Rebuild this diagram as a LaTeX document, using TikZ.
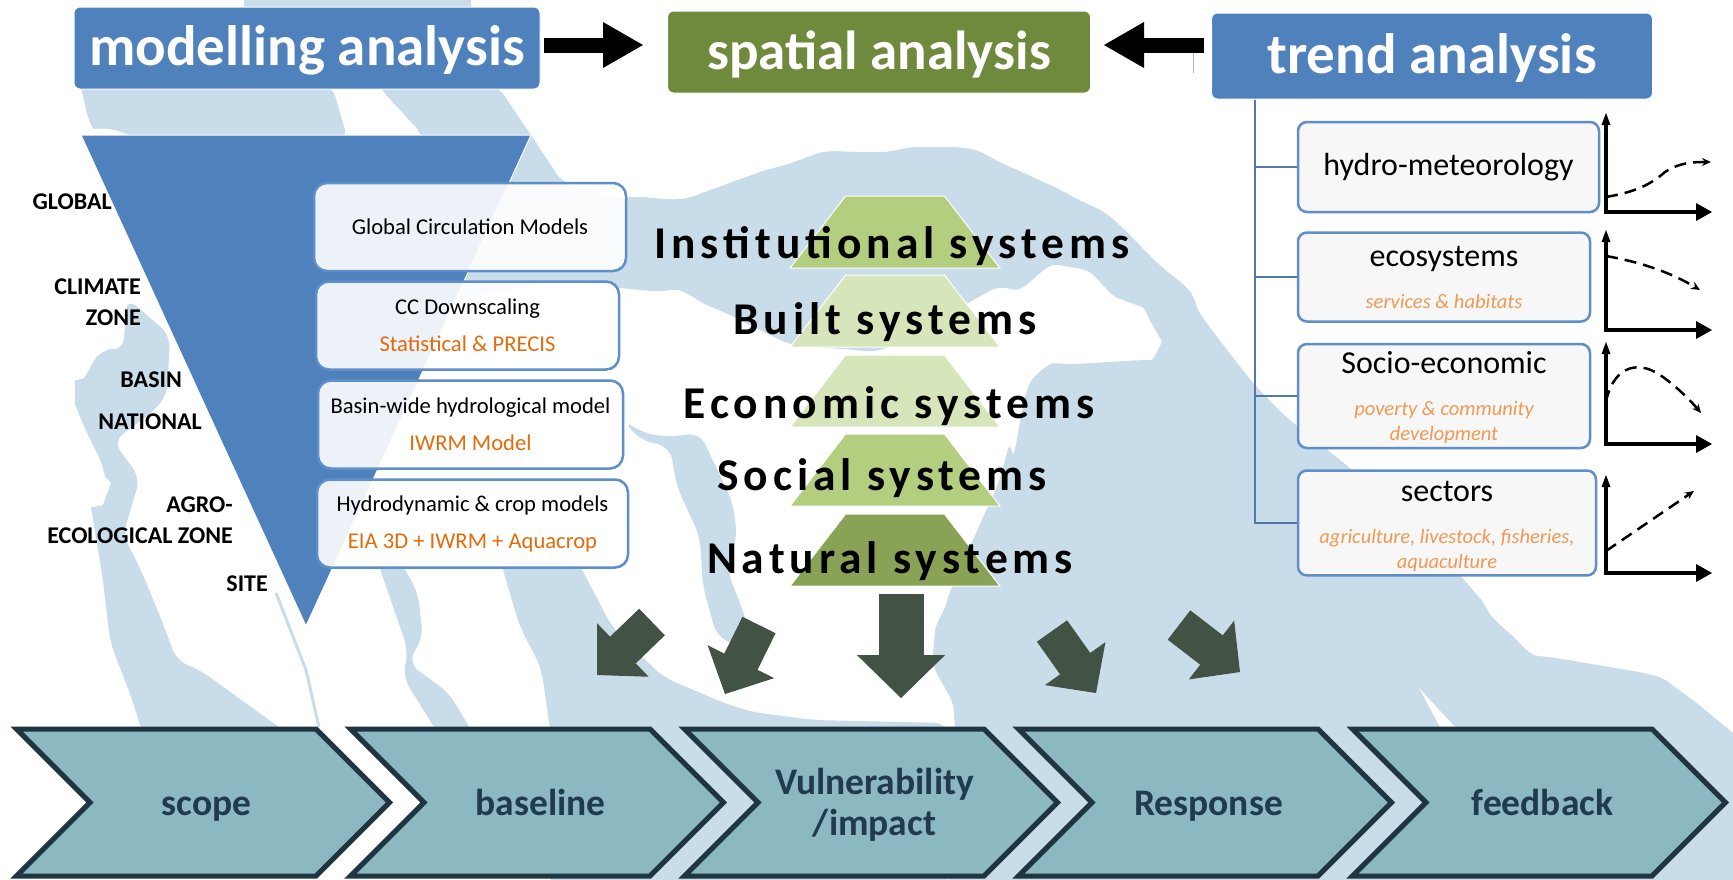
\documentclass[tikz,border=0pt]{standalone}
\usepackage{xcolor}
\usepackage{fontspec}
\setmainfont{Carlito}
\newfontfamily\spacedfont[LetterSpace=11]{Carlito}
\usetikzlibrary{shapes.geometric, shapes.symbols, arrows.meta, positioning}
\definecolor{riverblue}{HTML}{C9DCE9}
\definecolor{headblue}{HTML}{4F81BD}
\definecolor{headgreen}{HTML}{6F8A3D}
\definecolor{edgeblue}{HTML}{5F8FC8}
\definecolor{noteorange}{HTML}{E36C0A}
\definecolor{softorange}{HTML}{EE9A55}
\definecolor{layerlight}{HTML}{D7E6BA}
\definecolor{layermid}{HTML}{B3CE7E}
\definecolor{layerdark}{HTML}{8AA256}
\definecolor{arrowgreen}{HTML}{425244}
\definecolor{stepfill}{HTML}{8BB8C1}
\definecolor{stepedge}{HTML}{1F3541}
\definecolor{steptext}{HTML}{213A4E}
\newcommand{\modelnote}[1]{\textcolor{noteorange}{#1}}
\newcommand{\trendnote}[1]{{\fontsize{20.5}{24}\selectfont\itshape\textcolor{softorange}{#1}}}
\newcommand{\stepname}[1]{\hspace*{7pt}\rule[-10pt]{0pt}{46pt}#1}

\begin{document}
\begin{tikzpicture}[
    x=1pt, y=-1pt,
    head/.style={rectangle, draw=white, line width=1pt, fill=headblue, text=white, rounded corners=6pt, text height=48pt, text depth=13pt, font=\bfseries\fontsize{57}{64}\selectfont},
    modelbox/.style={rectangle, draw=edgeblue, line width=2.5pt, fill=white, fill opacity=0.9, text opacity=1, rounded corners=13pt, align=center, minimum width=305pt, minimum height=88pt, text=black, font=\fontsize{22.6}{37}\selectfont},
    trendbox/.style={rectangle, draw=edgeblue, line width=2.5pt, fill=white!97!black, rounded corners=9pt, align=center, text=black, font=\fontsize{32}{36}\selectfont},
    level/.style={anchor=east, inner sep=0pt, font=\bfseries\fontsize{24}{28}\selectfont},
    layer/.style={trapezium, draw=white, line width=1pt, trapezium stretches=true, trapezium left angle=60.7, trapezium right angle=60.7, minimum width=210pt, minimum height=72pt},
    layertext/.style={inner sep=0pt, font=\spacedfont\bfseries\fontsize{45.5}{52}\selectfont},
    stepbox/.style={signal, signal from=west, signal to=east, signal pointer angle=90, draw=stepedge, line width=5pt, fill=stepfill, minimum width=373pt, minimum height=147pt, inner sep=0pt, align=center, text=steptext, font=\bfseries\fontsize{37.5}{41}\selectfont},
    blackarrow/.style={-{Triangle[length=40pt,width=46pt,line width=0pt]}, line width=15pt, black},
    greenarrow/.style={-{Triangle[length=36pt,width=74pt,line width=1pt]}, line width=37pt, arrowgreen},
    mainarrow/.style={-{Triangle[length=43pt,width=88pt,line width=1pt]}, line width=45pt, arrowgreen},
    branch/.style={draw=edgeblue!85!black, line width=2pt},
    axis/.style={-{Triangle[length=16pt,width=18pt,line width=0pt]}, line width=3.5pt, black},
    yaxis/.style={-{Triangle[length=12pt,width=9pt,line width=0pt]}, line width=3.5pt, black},
    curve/.style={-{Stealth[length=9pt,width=8pt]}, dashed, dash pattern=on 12pt off 7pt, line width=2.5pt, black},
    river/.style={riverblue, rounded corners=12pt}
]
\useasboundingbox (0,0) rectangle (1733,879);

% River background
\fill[white] (0,0) rectangle (1733,879);
\fill[riverblue] (244,0) rectangle (471,10);
\fill[river] (75,85) to[out=80,in=190] (107,127) -- (143,140) -- (348,140) -- (332,85) -- cycle;
\fill[river] (377,85) -- (497,85) -- (531,135) -- (564,185) to[out=0,in=180] (625,197) to[out=0,in=200] (705,192) to[out=20,in=200] (746,177) to[out=20,in=200] (805,158) to[out=20,in=180] (870,152) to[out=0,in=180] (929,147) to[out=0,in=150] (995,160) -- (1061,190) to[out=-30,in=140] (1120,225) -- (1161,267) -- (1180,281) to[out=-45,in=125] (1208,325) -- (1244,372) to[out=-50,in=135] (1286,417) -- (1349,467) -- (1420,530) -- (1473,590) to[out=-50,in=135] (1502,627) to[out=-40,in=175] (1550,657) -- (1645,673) to[out=-15,in=145] (1693,700) -- (1750,747) -- (1750,900) -- (947,900) -- (955,723) to[out=95,in=-95] (934,643) to[out=85,in=-105] (949,593) -- (1000,480) -- (1010,440) to[out=-80,in=-130] (1040,370) to[out=30,in=180] (1078,364) -- (1140,360) to[out=0,in=-60] (1156,331) to[out=120,in=-20] (1131,303) to[out=160,in=-10] (1070,267) to[out=170,in=-20] (1000,285) -- (880,352) -- (790,345) -- (720,310) to[out=160,in=10] (660,292) -- (620,288) -- (560,280) -- (450,300) -- (423,135) -- cycle;
% lower channels
\fill[river] (127,298) -- (123,351) to[out=170,in=60] (90,368) to[out=-120,in=90] (75,392) to[out=-90,in=110] (83,425) -- (103,465) to[out=-80,in=70] (107,494) to[out=-110,in=100] (93,519) -- (103,580) -- (110,641) to[out=-70,in=110] (133,702) -- (143,735) -- (290,735) -- (233,694) -- (200,670) -- (177,661) -- (160,616) -- (140,568) -- (123,535) -- (140,478) -- (113,441) -- (150,414) -- (167,396) -- (170,335) -- cycle;
\fill[river] (377,560) -- (408,650) -- (403,677) -- (439,735) -- (474,735) -- (449,693) -- (408,663) -- (423,637) -- (418,593) -- (400,560) -- cycle;
\fill[river] (500,560) -- (520,627) -- (541,667) -- (551,735) -- (551,900) -- (947,900) -- (947,723) -- (813,720) -- (752,712) -- (724,703) -- (663,677) -- (612,627) -- (577,560) -- cycle;
\fill[river] (623,420) -- (643,433) -- (667,437) -- (700,433) -- (733,503) -- (737,537) -- (727,570) -- (740,603) -- (757,653) -- (717,637) -- (703,587) -- (700,537) -- (677,487) -- (670,447) -- (640,440) -- cycle;
\draw[riverblue, line width=3pt] (276,593) -- (306,670) -- (319,727);
\fill[white] (1419,688) -- (1455,727) -- (1440,727) -- cycle;
\draw[gray!60, line width=1pt] (1193,52) -- (1193,73);

% Headers
\node[head, minimum width=466pt, minimum height=82pt] (modelling) at (307,48) {modelling analysis};
\node[head, fill=headgreen, minimum width=423pt, minimum height=82pt, font=\bfseries\fontsize{55}{62}\selectfont] (spatial) at (879,52) {spatial analysis};
\node[head, minimum width=441pt, minimum height=86pt] (trend) at (1432,56) {trend analysis};

% Scale labels
\node[level] (global) at (112,202) {GLOBAL};
\node[level] (climate) at (141,287) {CLIMATE};
\node[level] (climatezone) at (141,318) {ZONE};
\node[level] (basin) at (182,380) {BASIN};
\node[level] (national) at (202,422) {NATIONAL};
\node[level] (agro) at (233,505) {AGRO-};
\node[level] (ecozone) at (233,536) {ECOLOGICAL ZONE};
\node[level] (site) at (268,584) {SITE};

% Scale funnel
\fill[headblue, draw=white, line width=1pt] (81,135) -- (531,135) -- (306,626) -- cycle;

% Model boxes
\node[modelbox, minimum width=312pt] (gcm) at (470,227) {Global Circulation Models};
\node[modelbox, below=8pt of gcm.south west, anchor=north west, xshift=2pt, minimum width=303pt] (downscale) {CC Downscaling\\\modelnote{Statistical \& PRECIS}};
\node[modelbox, below=8.5pt of downscale.south west, anchor=north west, xshift=2pt] (hydromodel) {Basin-wide hydrological model\\\modelnote{IWRM Model}};
\node[modelbox, below=8.5pt of hydromodel.south west, anchor=north west, xshift=-1pt, minimum width=311pt] (cropmodel) {Hydrodynamic \& crop models\\\modelnote{EIA 3D + IWRM + Aquacrop}};

% Top arrows
\coordinate (arrowline) at (0,45);
\draw[blackarrow] ([xshift=3pt]modelling.east |- arrowline) -- ([xshift=-24pt]spatial.west |- arrowline);
\draw[blackarrow] ([xshift=-7pt]trend.west |- arrowline) -- ([xshift=13pt]spatial.east |- arrowline);

% Trend boxes
\node[trendbox, minimum width=301pt, minimum height=90pt] (hydro) at (1448.5,167) {hydro-meteorology};
\node[trendbox, below=18pt of hydro.south west, anchor=north west, minimum width=292pt, minimum height=89pt] (eco) {ecosystems\\[6pt]\trendnote{services \& habitats}};
\node[trendbox, below=20pt of eco.south west, anchor=north west, minimum width=292pt, minimum height=104pt] (socio) {\rule{0pt}{26pt}Socio-economic\\[6pt]\trendnote{poverty \& community}\\[-11pt]\trendnote{development}};
\node[trendbox, below=20pt of socio.south west, anchor=north west, minimum width=298pt, minimum height=102pt] (sectors) {\rule{0pt}{28pt}sectors\\[6pt]\trendnote{agriculture, livestock, fisheries,}\\[-11pt]\trendnote{aquaculture}};

\draw[branch] ([xshift=44pt]trend.south west) |- (hydro.west);
\draw[branch] ([xshift=44pt]trend.south west) |- (eco.west);
\draw[branch] ([xshift=44pt]trend.south west) |- (socio.west);
\draw[branch] ([xshift=44pt]trend.south west) |- (sectors.west);

% Trend charts
\coordinate (hydroorigin) at (1606,212);
\coordinate (ecoorigin) at (1606,330);
\coordinate (sociorigin) at (1606,444);
\coordinate (sectorigin) at (1606,573);
\draw[yaxis] (hydroorigin) -- ++(0,-99);
\draw[axis] ([xshift=-2pt]hydroorigin) -- ++(108,0);
\draw[yaxis] (ecoorigin) -- ++(0,-100);
\draw[axis] ([xshift=-2pt]ecoorigin) -- ++(108,0);
\draw[yaxis] (sociorigin) -- ++(0,-102);
\draw[axis] ([xshift=-2pt]sociorigin) -- ++(108,0);
\draw[yaxis] (sectorigin) -- ++(0,-98);
\draw[axis] ([xshift=-2pt]sectorigin) -- ++(108,0);
\draw[curve] (1606,197) .. controls (1635,192) and (1650,185) .. (1665,172) .. controls (1680,162) and (1695,162) .. (1711,162);
\draw[curve] (1606,256) .. controls (1640,262) and (1670,272) .. (1700,290);
\draw[curve] (1606,402) .. controls (1612,370) and (1635,358) .. (1660,375) .. controls (1675,385) and (1690,400) .. (1701,413);
\draw[curve] (1606,551) -- (1694,491);

% System layers
\node[layer, fill=layermid] (institutional) at (895,232) {};
\node[layer, fill=layerlight] (built) at (895,311) {};
\node[layer, fill=layerlight] (economic) at (895,391) {};
\node[layer, fill=layermid] (social) at (895,470) {};
\node[layer, fill=layerdark] (natural) at (895,550) {};
\node[layertext] (institutionaltext) at (892,246) {Institutional systems};
\node[layertext] (builttext) at (885,322) {Built systems};
\node[layertext] (economictext) at (889,406) {Economic systems};
\node[layertext] (socialtext) at (882,478) {Social systems};
\node[layertext] (naturaltext) at (890,561) {Natural systems};

% Green arrows
\coordinate (leftstart) at (652,622);
\coordinate (lefttip) at (597,675);
\coordinate (nearstart) at (759,625);
\coordinate (neartip) at (725,694);
\coordinate (midstart) at (901,594);
\coordinate (midtip) at (901,698);
\coordinate (farstart) at (1052,631);
\coordinate (fartip) at (1096,693);
\coordinate (rightstart) at (1179,625);
\coordinate (righttip) at (1240,672);
\draw[greenarrow] (leftstart) -- (lefttip);
\draw[greenarrow] (nearstart) -- (neartip);
\draw[mainarrow] (midstart) -- (midtip);
\draw[greenarrow] (farstart) -- (fartip);
\draw[greenarrow] (rightstart) -- (righttip);

% Process steps
\node[stepbox] (scope) at (203,802.5) {\stepname{scope}};
\node[stepbox] (baseline) at (537,802.5) {\stepname{baseline}};
\node[stepbox] (vulnerability) at (871,802.5) {\hspace*{7pt}\rule{0pt}{30pt}Vulnerability\\\hspace*{7pt}/impact};
\node[stepbox] (response) at (1205,802.5) {\stepname{Response}};
\node[stepbox] (feedback) at (1539,802.5) {\stepname{feedback}};

\end{tikzpicture}
\end{document}
